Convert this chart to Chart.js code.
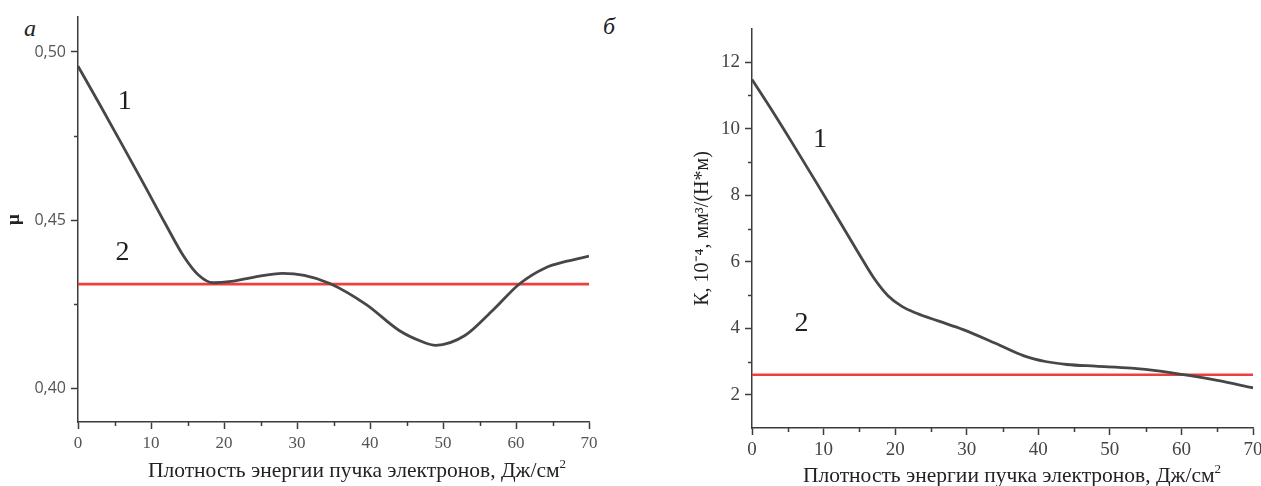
<!DOCTYPE html>
<html>
<head>
<meta charset="utf-8">
<script src="https://cdn.jsdelivr.net/npm/chart.js@4/dist/chart.umd.min.js"></script>
<style>
  html, body { margin:0; padding:0; background:#fff; }
  body { width:1261px; height:486px; position:relative; overflow:hidden; }
  canvas { position:absolute; top:0; }
  #cA { left:0; }
  #cB { left:620px; }
  .panel { position:absolute; font-family:"Liberation Serif","DejaVu Serif",serif; font-style:italic; font-size:24px; color:#222; }
  .xt { position:absolute; font-family:"Liberation Serif","DejaVu Serif",serif; font-size:21.5px; line-height:21px; color:#222; white-space:nowrap; }
  .xt sup { font-size:13px; line-height:0; vertical-align:0; position:relative; top:-9px; }
</style>
</head>
<body>
<div class="panel" style="left:24px; top:15px;">а</div>
<div class="panel" style="left:603px; top:13px;">б</div>
<canvas id="cA" width="620" height="486"></canvas>
<canvas id="cB" width="641" height="486"></canvas>
<div class="xt" id="tA" style="left:148px; top:460px;"></div>
<div class="xt" id="tB" style="left:803px; top:465px;"></div>
<script>
// ---------- data ----------
const xTicks = [0, 10, 20, 30, 40, 50, 60, 70];
const xMinorTicks = [5, 15, 25, 35, 45, 55, 65];

// panel а : friction coefficient μ
const muTicks = [0.40, 0.45, 0.50];
const muTickLabels = ['0,40', '0,45', '0,50'];
const muMinorTicks = [0.425, 0.475];
const muX  = [0, 3, 6, 9, 12, 14.5, 16.5, 18.5, 21, 24, 28, 31, 34.5, 39.5, 44, 47, 49, 53, 57, 60.5, 64, 67, 70];
const muY1 = [0.4958, 0.4843, 0.4726, 0.4608, 0.4488, 0.4392, 0.4337, 0.4314, 0.4318, 0.4330, 0.4342, 0.4336, 0.4312, 0.4249, 0.4172, 0.4140, 0.4128, 0.4157, 0.4236, 0.4311, 0.4358, 0.4378, 0.4393];
const muLine2X = [0, 70];
const muLine2Y = [0.431, 0.431];

// panel б : wear coefficient K
const kTicks = [2, 4, 6, 8, 10, 12];
const kTickLabels = ['2', '4', '6', '8', '10', '12'];
const kMinorTicks = [3, 5, 7, 9, 11];
const kX  = [0, 3, 6, 9, 12, 15, 17, 19, 21, 23, 26, 29.5, 34, 38, 41, 44, 48, 53, 57, 61, 65, 70];
const kY1 = [11.48, 10.48, 9.44, 8.38, 7.30, 6.22, 5.52, 4.98, 4.65, 4.45, 4.22, 3.96, 3.55, 3.17, 3.00, 2.91, 2.86, 2.80, 2.71, 2.58, 2.43, 2.21];
const kLine2X = [0, 70];
const kLine2Y = [2.6, 2.6];

const xTitleText = 'Плотность энергии пучка электронов, Дж/см';
const xTitleSup = '2';
const muTitle = 'μ';
const kTitle = 'К, 10⁻⁴, мм³/(Н*м)';

// x axis titles as real HTML text
['tA', 'tB'].forEach(id => {
  const el = document.getElementById(id);
  el.textContent = xTitleText;
  const s = document.createElement('sup'); s.textContent = xTitleSup; el.appendChild(s);
});

// ---------- helpers ----------
const AXIS = '#3c3c3c';
const CURVE = '#474747';
const RED = '#ef3e3e';
const pts = (xs, ys) => xs.map((x, i) => ({ x: x, y: ys[i] }));

const extras = {
  id: 'extras',
  afterDraw(chart, args, o) {
    const ctx = chart.ctx, xs = chart.scales.x, ys = chart.scales.y;
    ctx.save();
    ctx.strokeStyle = AXIS; ctx.lineWidth = 1.5;
    o.xMinor.forEach(v => {
      const p = Math.round(xs.getPixelForValue(v)) + 0.5;
      ctx.beginPath(); ctx.moveTo(p, xs.top); ctx.lineTo(p, xs.top + 4); ctx.stroke();
    });
    o.yMinor.forEach(v => {
      const p = Math.round(ys.getPixelForValue(v)) + 0.5;
      ctx.beginPath(); ctx.moveTo(ys.right, p); ctx.lineTo(ys.right - 4, p); ctx.stroke();
    });
    ctx.fillStyle = '#1e1e1e';
    ctx.font = '28px "Liberation Serif", serif';
    ctx.textAlign = 'center'; ctx.textBaseline = 'middle';
    o.labels.forEach(l => ctx.fillText(l.text, xs.getPixelForValue(l.x), ys.getPixelForValue(l.y)));
    ctx.restore();
  }
};

function makeChart(id, cfg) {
  return new Chart(document.getElementById(id), {
    type: 'line',
    data: {
      datasets: [
        { data: pts(cfg.x1, cfg.y1), borderColor: CURVE, borderWidth: 2.8, pointRadius: 0,
          cubicInterpolationMode: 'monotone', fill: false },
        { data: pts(cfg.x2, cfg.y2), borderColor: RED, borderWidth: 2.6, pointRadius: 0, fill: false }
      ]
    },
    options: {
      responsive: false, animation: false, events: [],
      layout: { padding: cfg.pad },
      plugins: { legend: { display: false }, tooltip: { enabled: false },
        extras: { xMinor: xMinorTicks, yMinor: cfg.yMinor, labels: cfg.labels } },
      scales: {
        x: {
          type: 'linear', min: 0, max: 70,
          afterBuildTicks: s => { s.ticks = xTicks.map(v => ({ value: v })); },
          afterFit: s => { s.height = cfg.xHeight; s.paddingLeft = 0; s.paddingRight = 0; },
          grid: { drawOnChartArea: false, drawTicks: true, tickLength: 7, tickColor: AXIS, tickWidth: 1.5 },
          border: { color: AXIS, width: 1.5 },
          ticks: { color: cfg.tickColor, font: cfg.xTickFont, padding: 4, maxRotation: 0, autoSkip: false,
                   callback: v => String(v) },
          title: { display: false }
        },
        y: {
          type: 'linear', min: cfg.yMin, max: cfg.yMax,
          afterBuildTicks: s => { s.ticks = cfg.yTicks.map(v => ({ value: v })); },
          afterFit: s => { s.width = cfg.yWidth; s.paddingTop = 0; s.paddingBottom = 0; },
          grid: { drawOnChartArea: false, drawTicks: true, tickLength: 7, tickColor: AXIS, tickWidth: 1.5 },
          border: { color: AXIS, width: 1.5 },
          ticks: { color: cfg.tickColor, font: cfg.yTickFont, padding: 5, autoSkip: false,
                   callback: v => cfg.yLabels[cfg.yTicks.indexOf(v)] ?? '' },
          title: { display: true, text: cfg.yTitle, color: '#222', font: cfg.yTitleFont,
                   padding: { top: cfg.yTitlePad, bottom: 0 } }
        }
      }
    },
    plugins: [extras]
  });
}

makeChart('cA', {
  x1: muX, y1: muY1, x2: muLine2X, y2: muLine2Y,
  yMin: 0.39, yMax: 0.5104, yTicks: muTicks, yLabels: muTickLabels, yMinor: muMinorTicks,
  pad: { top: 17, right: 31, left: 0, bottom: 0 },
  xHeight: 64, yWidth: 78, yTitlePad: 3,
  tickColor: '#555',
  xTickFont: { family: '"Liberation Serif", serif', size: 17 },
  yTickFont: { family: '"Open Sans", sans-serif', size: 16 },
  yTitle: muTitle, yTitleFont: { family: '"Liberation Serif", serif', size: 19, weight: 'bold' },
  labels: [ { text: '1', x: 6.4, y: 0.4853 }, { text: '2', x: 6.1, y: 0.4403 } ]
});

makeChart('cB', {
  x1: kX, y1: kY1, x2: kLine2X, y2: kLine2Y,
  yMin: 1, yMax: 13, yTicks: kTicks, yLabels: kTickLabels, yMinor: kMinorTicks,
  pad: { top: 29, right: 8, left: 0, bottom: 0 },
  xHeight: 58, yWidth: 132, yTitlePad: 71,
  tickColor: '#444',
  xTickFont: { family: '"Liberation Serif", serif', size: 19 },
  yTickFont: { family: '"Liberation Serif", serif', size: 19 },
  yTitle: kTitle, yTitleFont: { family: '"Liberation Serif", serif', size: 20 },
  labels: [ { text: '1', x: 9.5, y: 9.68 }, { text: '2', x: 6.9, y: 4.15 } ]
});
</script>
</body>
</html>
